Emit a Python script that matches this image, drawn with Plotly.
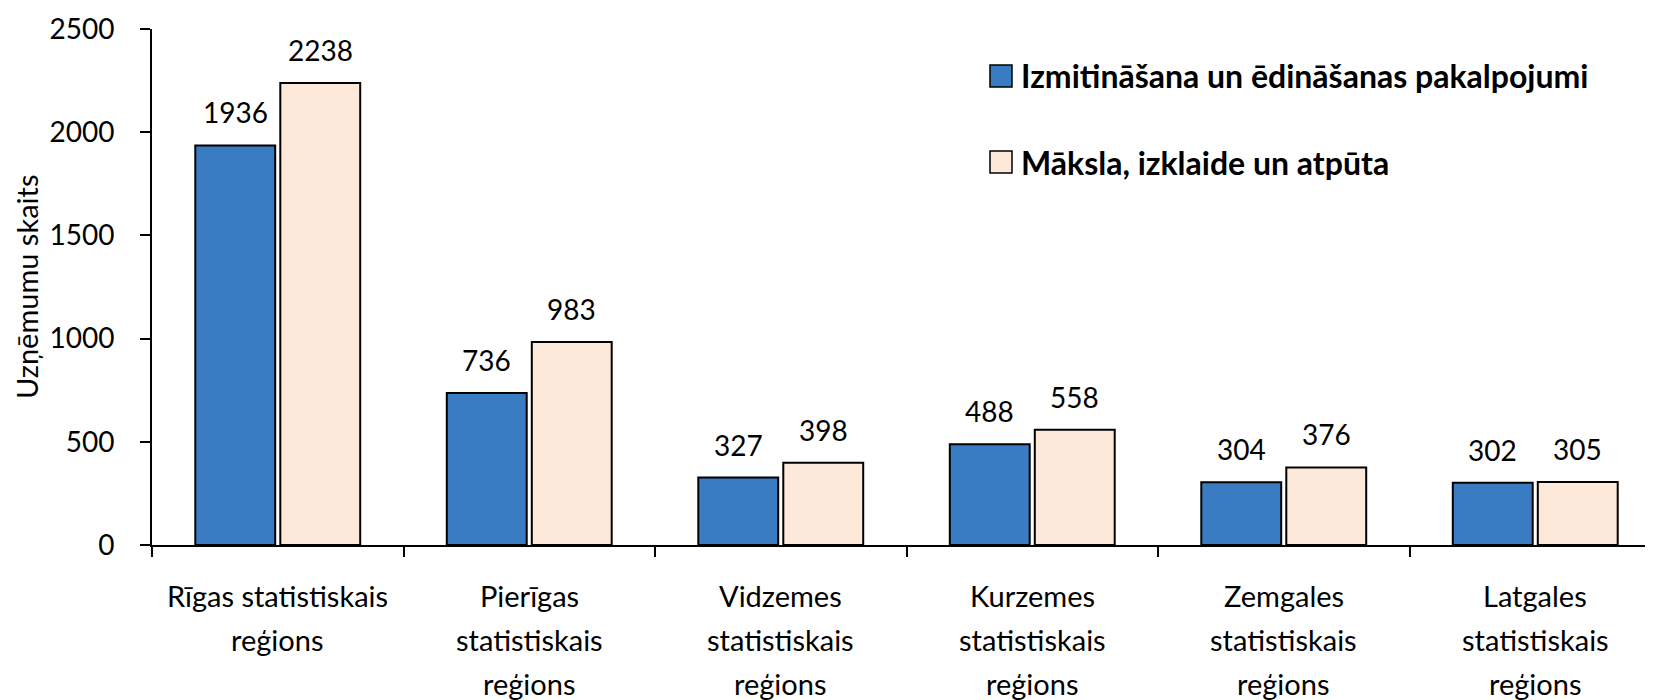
import plotly.graph_objects as go

regions = [
    "Rīgas statistiskais\nreģions",
    "Pierīgas\nstatistiskais\nreģions",
    "Vidzemes\nstatistiskais\nreģions",
    "Kurzemes\nstatistiskais\nreģions",
    "Zemgales\nstatistiskais\nreģions",
    "Latgales\nstatistiskais\nreģions",
]
series_names = [
    "Izmitināšana un ēdināšanas pakalpojumi",
    "Māksla, izklaide un atpūta",
]
accommodation = [1936, 736, 327, 488, 304, 302]
arts = [2238, 983, 398, 558, 376, 305]
y_ticks = [0, 500, 1000, 1500, 2000, 2500]

colors = ["#3A7CC1", "#FDE9D9"]
FONT = "Lato"
W, H = 1653, 700
# page body adds an 8px margin, so everything is laid out 8px up/left
ML, MR, MT, MB = 144, 0, 21, 163
XR = [-0.5, 5.5]
BARGAP = 0.324
PW, PH = W - ML - MR, H - MT - MB

cat_px = PW / (XR[1] - XR[0])
slot_px = (1 - BARGAP) * cat_px / 2
keys = [r.replace("\n", " ") for r in regions]

fig = go.Figure()
for name, vals, col in zip(series_names, [accommodation, arts], colors):
    fig.add_trace(go.Bar(
        x=keys, y=vals, name=name,
        marker=dict(color=col, line=dict(color="black", width=2)),
        showlegend=False,
    ))

annotations = []
# value labels above bars
for si, vals in enumerate([accommodation, arts]):
    shift = (si - 0.5) * slot_px
    for k, v in zip(keys, vals):
        annotations.append(dict(
            x=k, y=v, xref="x", yref="y", text=str(v), showarrow=False,
            xanchor="center", yanchor="bottom", xshift=shift, yshift=14,
            font=dict(family=FONT, size=28, color="black"),
        ))

# category labels with wider line spacing
for k, lab in zip(keys, regions):
    for li, line in enumerate(lab.split("\n")):
        annotations.append(dict(
            x=k, y=0, xref="x", yref="y", text=line, showarrow=False,
            xanchor="center", yanchor="middle", yshift=-(50 + 44 * li),
            font=dict(family=FONT, size=29, color="black"),
        ))

# y axis title
annotations.append(dict(
    x=0, y=0.5, xref="paper", yref="paper", text="Uzņēmumu skaits",
    textangle=-90, showarrow=False, xanchor="center", yanchor="middle",
    xshift=-(ML - 18), font=dict(family=FONT, size=29, color="black"),
))

# legend
legend_y = [68, 154]
shapes = []
for name, col, ly in zip(series_names, colors, legend_y):
    yp = 1 - (ly - MT) / PH
    shapes.append(dict(
        type="rect", xref="paper", yref="paper",
        x0=(982 - ML) / PW, x1=(1004 - ML) / PW,
        y0=yp - 11 / PH, y1=yp + 11 / PH,
        fillcolor=col, line=dict(color="black", width=1.5),
    ))
    annotations.append(dict(
        x=(1011 - ML) / PW, y=yp, xref="paper", yref="paper",
        text="<b>" + name + "</b>", showarrow=False, xanchor="left", yanchor="middle",
        font=dict(family=FONT, size=32, color="black"),
    ))

fig.update_layout(
    width=W, height=H,
    margin=dict(l=ML, r=MR, t=MT, b=MB, autoexpand=False),
    paper_bgcolor="white", plot_bgcolor="white",
    barmode="group", bargap=BARGAP, bargroupgap=0.06,
    font=dict(family=FONT, size=28, color="black"),
    annotations=annotations, shapes=shapes,
    showlegend=False,
)
fig.update_xaxes(
    range=XR, showticklabels=False, showgrid=False,
    showline=True, linecolor="black", linewidth=2,
    ticks="outside", tickson="boundaries", ticklen=10, tickwidth=2, tickcolor="black",
)
fig.update_yaxes(
    range=[0, 2500], tickvals=y_ticks, showgrid=False, zeroline=False,
    showline=True, linecolor="black", linewidth=2,
    ticks="outside", ticklen=10, tickwidth=2, tickcolor="black",
    ticklabelstandoff=20, tickfont=dict(family=FONT, size=28, color="black"),
)

fig.write_html("out.html")
